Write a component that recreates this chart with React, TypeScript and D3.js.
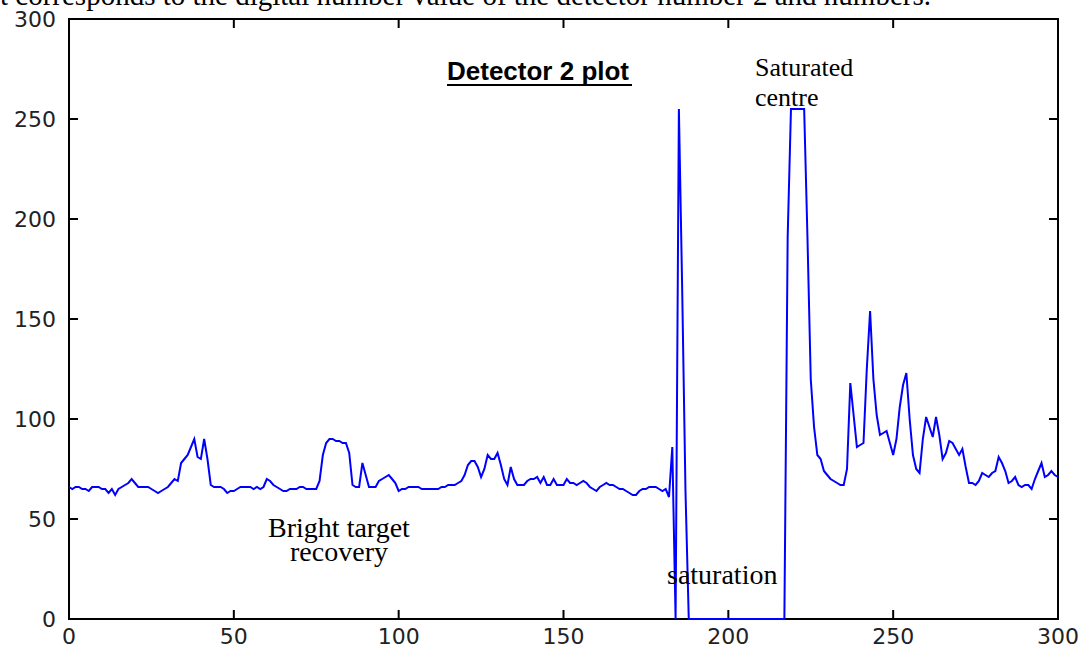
import React, { useRef, useEffect } from 'react';
import * as d3 from 'd3';

// detector 2 digital numbers, one per pixel index 0..300
const detector2: number[] = [
  66, 65, 66, 66, 65, 65, 64, 66, 66, 66,
  65, 65, 63, 65, 62, 65, 66, 67, 68, 70,
  68, 66, 66, 66, 66, 65, 64, 63, 64, 65,
  66, 68, 70, 69, 78, 80, 82, 86, 90, 81,
  80, 90, 80, 67, 66, 66, 66, 65, 63, 64,
  64, 65, 66, 66, 66, 66, 65, 66, 65, 66,
  70, 69, 67, 66, 65, 64, 64, 65, 65, 65,
  66, 66, 65, 65, 65, 65, 69, 82, 88, 90,
  90, 89, 89, 88, 88, 83, 67, 66, 66, 78,
  72, 66, 66, 66, 69, 70, 71, 72, 70, 68,
  64, 65, 65, 66, 66, 66, 66, 65, 65, 65,
  65, 65, 65, 66, 66, 67, 67, 67, 68, 69,
  72, 77, 79, 79, 76, 71, 75, 82, 80, 80,
  83, 77, 70, 67, 76, 70, 67, 67, 67, 69,
  70, 70, 71, 68, 71, 67, 67, 70, 67, 67,
  67, 70, 68, 68, 67, 68, 69, 68, 66, 65,
  64, 66, 67, 68, 67, 67, 66, 65, 65, 64,
  63, 62, 62, 64, 65, 65, 66, 66, 66, 65,
  64, 65, 61, 86, 0, 255, 165, 64, 0, 0,
  0, 0, 0, 0, 0, 0, 0, 0, 0, 0,
  0, 0, 0, 0, 0, 0, 0, 0, 0, 0,
  0, 0, 0, 0, 0, 0, 0, 0, 191, 255,
  255, 255, 255, 255, 191, 120, 96, 82, 80, 74,
  72, 70, 69, 68, 67, 67, 75, 118, 102, 86,
  87, 88, 125, 154, 120, 102, 92, 93, 94, 88,
  82, 90, 106, 117, 123, 100, 82, 75, 73, 90,
  101, 96, 91, 101, 92, 80, 83, 89, 88, 85,
  82, 85, 76, 68, 68, 67, 69, 73, 72, 71,
  73, 74, 81, 78, 74, 68, 69, 71, 67, 66,
  67, 67, 65, 70, 74, 78, 71, 72, 74, 72,
  71,
];

const xTicks: number[] = [0, 50, 100, 150, 200, 250, 300];
const yTicks: number[] = [0, 50, 100, 150, 200, 250, 300];

const App = () => {
  const ref = useRef<SVGSVGElement>(null);

  useEffect(() => {
    const svg = d3.select(ref.current);
    svg.selectAll('*').remove();

    const width = 1084, height = 649;
    const left = 69, right = 1058, top = 19, bottom = 619;

    svg.attr('width', width).attr('height', height);

    const x = d3.scaleLinear().domain([0, 300]).range([left, right]);
    const y = d3.scaleLinear().domain([0, 300]).range([bottom, top]);

    const serif = 'Liberation Serif, Times New Roman, serif';

    // text of the page that is cut off above the figure
    svg.append('text')
      .attr('x', 0)
      .attr('y', 5)
      .attr('font-family', serif)
      .attr('font-size', 29)
      .text('t corresponds to the digital number value of the detector number 2 and numbers.');

    // box
    svg.append('rect')
      .attr('x', left)
      .attr('y', top)
      .attr('width', right - left)
      .attr('height', bottom - top)
      .attr('fill', 'none')
      .attr('stroke', '#000')
      .attr('stroke-width', 2);

    const tickLen = 9;
    const tickFont = 'DejaVu Sans, sans-serif';

    const gx = svg.append('g');
    xTicks.forEach((t) => {
      gx.append('line')
        .attr('x1', x(t)).attr('x2', x(t))
        .attr('y1', bottom).attr('y2', bottom - tickLen)
        .attr('stroke', '#000').attr('stroke-width', 2);
      gx.append('line')
        .attr('x1', x(t)).attr('x2', x(t))
        .attr('y1', top).attr('y2', top + tickLen)
        .attr('stroke', '#000').attr('stroke-width', 2);
      gx.append('text')
        .attr('x', x(t))
        .attr('y', bottom + 25)
        .attr('text-anchor', 'middle')
        .attr('font-family', tickFont)
        .attr('font-size', 22)
        .attr('fill', '#222')
        .text(t);
    });

    const gy = svg.append('g');
    yTicks.forEach((t) => {
      gy.append('line')
        .attr('x1', left).attr('x2', left + tickLen)
        .attr('y1', y(t)).attr('y2', y(t))
        .attr('stroke', '#000').attr('stroke-width', 2);
      gy.append('line')
        .attr('x1', right).attr('x2', right - tickLen)
        .attr('y1', y(t)).attr('y2', y(t))
        .attr('stroke', '#000').attr('stroke-width', 2);
      gy.append('text')
        .attr('x', 56)
        .attr('y', y(t) + 8)
        .attr('text-anchor', 'end')
        .attr('font-family', tickFont)
        .attr('font-size', 22)
        .attr('fill', '#222')
        .text(t);
    });

    // data line, drawn over the box so the zero run shows on the axis
    const line = d3.line<number>()
      .x((d, i) => x(i))
      .y((d) => y(d));

    svg.append('path')
      .datum(detector2)
      .attr('d', line)
      .attr('fill', 'none')
      .attr('stroke', '#0000ff')
      .attr('stroke-width', 2);

    // annotations
    svg.append('text')
      .attr('x', 447)
      .attr('y', 80)
      .attr('font-family', 'Liberation Sans, Arial, sans-serif')
      .attr('font-weight', 'bold')
      .attr('font-size', 26)
      .text('Detector 2 plot');
    svg.append('line')
      .attr('x1', 447).attr('x2', 632)
      .attr('y1', 85).attr('y2', 85)
      .attr('stroke', '#000').attr('stroke-width', 2);

    svg.append('text').attr('x', 755).attr('y', 76)
      .attr('font-family', serif).attr('font-size', 26).text('Saturated');
    svg.append('text').attr('x', 755).attr('y', 106)
      .attr('font-family', serif).attr('font-size', 26).text('centre');

    svg.append('text').attr('x', 339).attr('y', 537)
      .attr('text-anchor', 'middle')
      .attr('font-family', serif).attr('font-size', 28).text('Bright target');
    svg.append('text').attr('x', 339).attr('y', 561)
      .attr('text-anchor', 'middle')
      .attr('font-family', serif).attr('font-size', 28).text('recovery');

    svg.append('text').attr('x', 667).attr('y', 584)
      .attr('font-family', serif).attr('font-size', 28).text('saturation');
  }, []);

  return (
    <svg
      ref={ref}
      style={{ position: 'absolute', left: 0, top: 0, display: 'block', background: '#fff' }}
    ></svg>
  );
};

export default App;
